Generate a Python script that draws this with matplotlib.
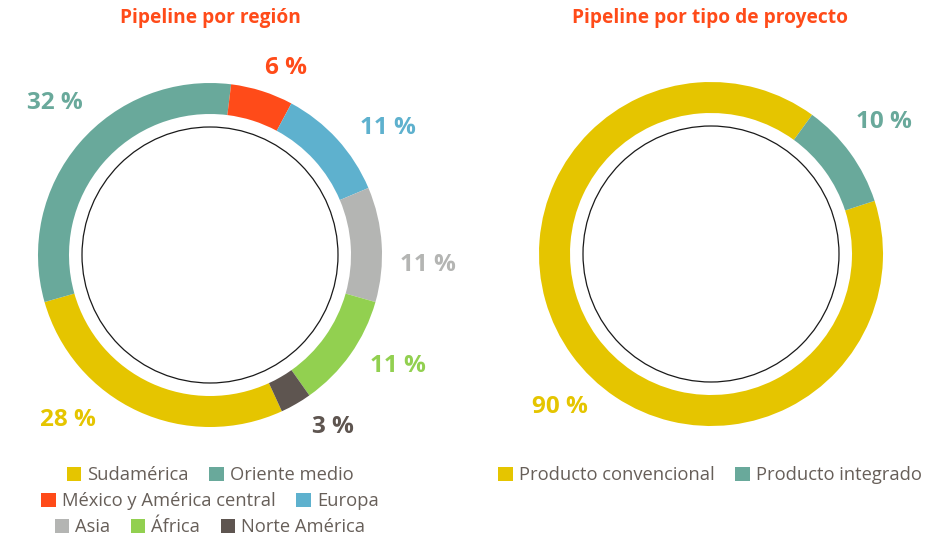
import matplotlib
matplotlib.use("Agg")
import matplotlib.pyplot as plt
from matplotlib.patches import Circle

plt.rcParams['font.family'] = ['Open Sans', 'DejaVu Sans']

# ---- data ----
region_labels = ["Sudamérica", "Oriente medio", "México y América central",
                 "Europa", "Asia", "África", "Norte América"]
region_values = [28, 32, 6, 11, 11, 11, 3]
region_colors = ["#E5C500", "#69A99B", "#FF4B19", "#5EB1CE",
                 "#B4B5B3", "#92D050", "#5E5550"]

type_labels = ["Producto convencional", "Producto integrado"]
type_values = [90, 10]
type_colors = ["#E5C500", "#69A99B"]

title_left = "Pipeline por región"
title_right = "Pipeline por tipo de proyecto"

# ---- layout ----
W, H = 944, 539
fig = plt.figure(figsize=(W / 100, H / 100), dpi=100)

R_PX = 172.0
HALF = 200.0


def make_ax(cx, cy):
    ax = fig.add_axes([(cx - HALF) / W, (H - cy - HALF) / H, 2 * HALF / W, 2 * HALF / H])
    return ax


def fix_ax(ax):
    lim = HALF / R_PX
    ax.set_xlim(-lim, lim)
    ax.set_ylim(-lim, lim)
    ax.set_axis_off()


def px(dx, dy):
    return dx / R_PX, dy / R_PX


ring_w = 31 / R_PX
circle_r = 128 / R_PX
title_color = "#FF4B19"
text_color = "#675F59"
label_fs = 17.5

# Left donut
axL = make_ax(210, 255)
wL, _ = axL.pie(region_values, colors=region_colors, startangle=-65.3, counterclock=False,
                radius=1.0, wedgeprops=dict(width=ring_w, linewidth=0))
fix_ax(axL)
axL.add_patch(Circle((0, 0), circle_r, fill=False, lw=0.9, edgecolor="#1a1a1a"))
left_label_pos = [(-142, -165), (-155, 152), (76, 187), (178, 127),
                  (218, -10), (188, -111), (123, -172)]
for v, c, (dx, dy) in zip(region_values, region_colors, left_label_pos):
    x, y = px(dx, dy)
    axL.text(x, y, f"{v} %", color=c, fontsize=label_fs, fontweight='bold',
             ha='center', va='center')

# Right donut
axR = make_ax(711, 254)
wR, _ = axR.pie(type_values, colors=type_colors, startangle=18, counterclock=False,
                radius=1.0, wedgeprops=dict(width=ring_w, linewidth=0))
fix_ax(axR)
axR.add_patch(Circle((0, 0), circle_r, fill=False, lw=0.9, edgecolor="#1a1a1a"))
right_label_pos = [(-151, -153), (173, 132)]
for v, c, (dx, dy) in zip(type_values, type_colors, right_label_pos):
    x, y = px(dx, dy)
    axR.text(x, y, f"{v} %", color=c, fontsize=label_fs, fontweight='bold',
             ha='center', va='center')

# Titles
fig.text(210 / W, 1 - 18 / H, title_left, color=title_color, fontsize=13.8,
         fontweight='bold', ha='center', va='center')
fig.text(710 / W, 1 - 18 / H, title_right, color=title_color, fontsize=13.8,
         fontweight='bold', ha='center', va='center')

# Legends
leg_kw = dict(frameon=False, fontsize=13.2, handlelength=0.8, handleheight=0.8,
              handletextpad=0.33, columnspacing=1.1, borderpad=0, borderaxespad=0,
              labelcolor=text_color, loc='center')
rows = [[0, 1], [2, 3], [4, 5, 6]]
row_y = [475, 501, 527]
for idx, yy in zip(rows, row_y):
    fig.legend([wL[i] for i in idx], [region_labels[i] for i in idx], ncol=len(idx),
               bbox_to_anchor=(210 / W, 1 - yy / H), **leg_kw)
fig.legend(wR, type_labels, ncol=2, bbox_to_anchor=(710 / W, 1 - 475 / H), **leg_kw)

fig.savefig("out.png", dpi=100, facecolor="white")
